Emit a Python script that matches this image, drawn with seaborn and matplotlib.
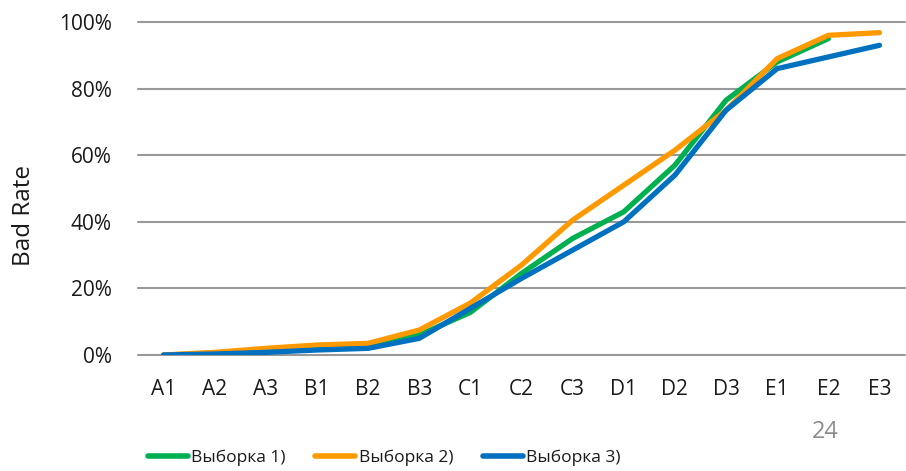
import matplotlib
matplotlib.use("Agg")
import matplotlib.pyplot as plt
import seaborn as sns
import pandas as pd
import numpy as np
from matplotlib.lines import Line2D

categories = ["A1", "A2", "A3", "B1", "B2", "B3", "C1", "C2", "C3", "D1", "D2", "D3", "E1", "E2", "E3"]
sample1 = [0, 0.5, 1, 2, 2.5, 6, 12.8, 24.5, 35, 43, 57, 76.5, 88, 95, np.nan]
sample2 = [0, 0.8, 2, 3, 3.5, 7.5, 15.6, 27, 40.5, 51, 61.5, 73.5, 89, 96, 96.8]
sample3 = [0, 0.3, 0.8, 1.5, 2, 5, 14, 23, 31.5, 40, 54, 73.5, 86, 89.5, 93]
series_names = ["Выборка 1)", "Выборка 2)", "Выборка 3)"]
colors = ["#00B050", "#FF9900", "#0070C0"]
y_ticks = [0, 20, 40, 60, 80, 100]

n = len(categories)
df = pd.DataFrame({"cat": categories * 3,
                   "x": list(range(n)) * 3,
                   "val": sample1 + sample2 + sample3,
                   "series": [series_names[0]] * n + [series_names[1]] * n + [series_names[2]] * n})

sns.set_theme(style="white")
plt.rcParams["font.family"] = ["Open Sans", "DejaVu Sans"]

fig = plt.figure(figsize=(9.06, 4.71), dpi=100)
ax = fig.add_axes([138 / 906, 1 - 355 / 471, (905 - 138) / 906, (355 - 22) / 471])

sns.lineplot(data=df, x="x", y="val", hue="series", palette=colors, linewidth=3.8,
             ax=ax, legend=False, solid_capstyle="round", solid_joinstyle="round", zorder=3)

ax.set_xlim(-0.5, n - 0.5)
ax.set_ylim(0, 100)
ax.set_yticks(y_ticks)
ax.set_yticklabels([f"{t}%" for t in y_ticks], fontsize=15, color="#1a1a1a")
ax.set_xticks(range(n))
ax.set_xticklabels(categories, fontsize=15, color="#1a1a1a")
ax.tick_params(axis="y", length=0, pad=19)
ax.tick_params(axis="x", length=0, pad=17)
for t in y_ticks:
    ax.axhline(t, color="#999999", lw=1.5, zorder=1, clip_on=False)
for s in ax.spines.values():
    s.set_visible(False)
ax.set_xlabel("")
ax.set_ylabel("Bad Rate", fontsize=17.5, color="#1a1a1a")
ax.yaxis.set_label_coords((36 - 138) / 767, (355 - 216) / 333)

handles = [Line2D([0], [0], color=c, lw=4, solid_capstyle="round") for c in colors]
fig.legend(handles, series_names, loc="center", bbox_to_anchor=(0.424, 1 - 458 / 471),
           ncol=3, frameon=False, fontsize=12.5, handlelength=2.3, handletextpad=0.2,
           columnspacing=1.7, labelcolor="#1a1a1a")

fig.text(825 / 906, 1 - 432 / 471, "24", fontsize=17, color="#8c8c8c", ha="center", va="center")

fig.savefig("out.png", dpi=100)
